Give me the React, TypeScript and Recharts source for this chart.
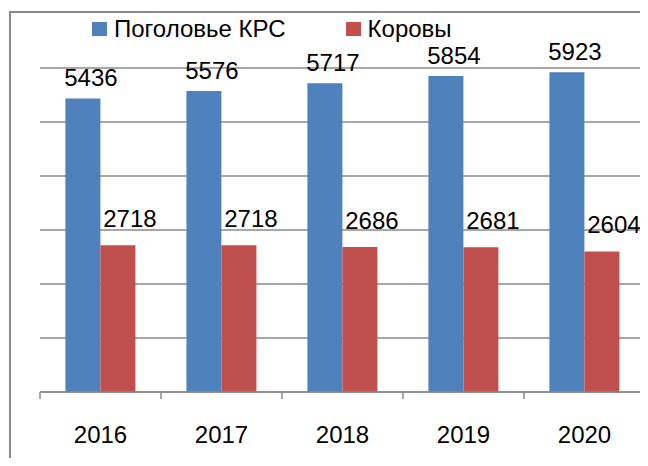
import React from 'react';
import { BarChart, Bar, XAxis, YAxis, CartesianGrid, Legend, LabelList } from 'recharts';

const years = ['2016', '2017', '2018', '2019', '2020'];
const herd = [5436, 5576, 5717, 5854, 5923];
const cows = [2718, 2718, 2686, 2681, 2604];
const yTicks = [0, 1000, 2000, 3000, 4000, 5000, 6000];
const seriesNames = ['Поголовье КРС', 'Коровы'];

const chartData = years.map((year, i) => ({ year, herd: herd[i], cows: cows[i] }));

const FONT = '"Liberation Sans", Arial, sans-serif';
const FONT_SIZE = 24;
const LINE = '#8a8a8a';
const BLUE = '#4F81BD';
const RED = '#C0504D';

const WIDTH = 648;
const HEIGHT = 466;
const MARGIN = { top: 38, right: 3, bottom: 0, left: 40 };
const BAND = (WIDTH - MARGIN.left - MARGIN.right) / years.length;

// labels sit above and a bit to the right of each bar, as in the source
const makeLabel = (dx: number, gap: number) => (props: any) => {
  const { x, y, width, value } = props;
  return (
    <text x={x + width / 2 + dx} y={y - gap} textAnchor="middle" fontFamily={FONT} fontSize={FONT_SIZE} fill="#000">
      {value}
    </text>
  );
};

// ticks go on category borders, not centres
const YearTick = (props: any) => {
  const { x, y, payload, index } = props;
  const half = BAND / 2;
  return (
    <g>
      <line x1={x - half} y1={y} x2={x - half} y2={y + 7} stroke={LINE} strokeWidth={1.5} />
      {index === years.length - 1 && (
        <line x1={x + half} y1={y} x2={x + half} y2={y + 7} stroke={LINE} strokeWidth={1.5} />
      )}
      <text x={x} y={y + 51} textAnchor="middle" fontFamily={FONT} fontSize={FONT_SIZE} fill="#000">
        {payload.value}
      </text>
    </g>
  );
};

const LegendContent = () => {
  const colors = [BLUE, RED];
  return (
    <div style={{ display: 'flex', height: 30, alignItems: 'center', fontFamily: FONT, fontSize: FONT_SIZE, color: '#000' }}>
      {seriesNames.map((name, i) => (
        <div key={name} style={{ display: 'flex', alignItems: 'center', marginRight: 60 }}>
          <span style={{ width: 15, height: 14, background: colors[i], display: 'inline-block', marginRight: 7 }} />
          <span>{name}</span>
        </div>
      ))}
    </div>
  );
};

export default function App() {
  return (
    <div style={{ margin: -8, width: WIDTH, height: HEIGHT, position: 'relative', overflow: 'hidden', background: '#fff' }}>
      <div
        style={{
          position: 'absolute',
          left: 9,
          top: 11,
          width: 700,
          height: 500,
          borderLeft: `2px solid ${LINE}`,
          borderTop: `2px solid ${LINE}`,
        }}
      />
      <BarChart
        width={WIDTH}
        height={HEIGHT}
        data={chartData}
        margin={MARGIN}
        barCategoryGap="21%"
        barGap={0}
        style={{ position: 'absolute', left: 0, top: 0 }}
      >
        <CartesianGrid vertical={false} stroke={LINE} strokeWidth={1.5} />
        <YAxis hide domain={[0, 6000]} ticks={yTicks} />
        <XAxis
          dataKey="year"
          height={74}
          tickSize={0}
          tickMargin={0}
          tickLine={false}
          axisLine={{ stroke: LINE, strokeWidth: 1.5 }}
          tick={<YearTick />}
          interval={0}
        />
        <Legend
          verticalAlign="top"
          align="left"
          content={<LegendContent />}
          wrapperStyle={{ top: 14, left: 92, width: 'auto' }}
        />
        <Bar dataKey="herd" name={seriesNames[0]} fill={BLUE} isAnimationActive={false}>
          <LabelList dataKey="herd" content={makeLabel(8, 12)} />
        </Bar>
        <Bar dataKey="cows" name={seriesNames[1]} fill={RED} isAnimationActive={false}>
          <LabelList dataKey="cows" content={makeLabel(12, 18)} />
        </Bar>
      </BarChart>
    </div>
  );
}
